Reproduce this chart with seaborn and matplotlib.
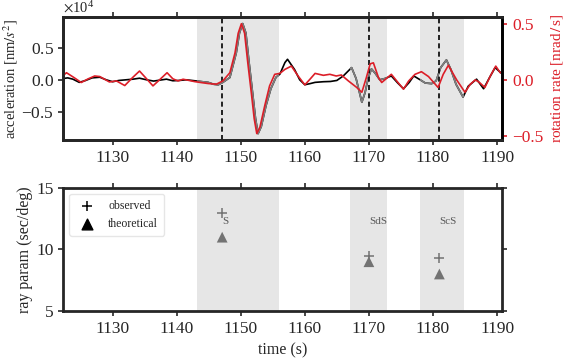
import numpy as np
import pandas as pd
import seaborn as sns
import matplotlib.pyplot as plt

# ---------------- data ----------------
# acceleration trace (x1e4 nm/s^2)
acc_t = [1122.3, 1123.0, 1123.8, 1124.8, 1125.8, 1126.8, 1128.0, 1129.0, 1130.0, 1131.0,
         1132.1, 1133.2, 1134.2, 1135.3, 1136.4, 1137.4, 1138.4, 1139.4, 1140.4, 1141.5,
         1142.8, 1144.0, 1144.9, 1145.8, 1146.5, 1147.2, 1148.3, 1149.3, 1149.8, 1150.3,
         1150.8, 1151.3, 1151.9, 1152.3, 1152.7, 1153.2, 1153.95, 1154.7, 1155.5, 1156.1,
         1156.9, 1157.3, 1158.4, 1159.2, 1160.0, 1160.8, 1161.6, 1162.9, 1164.0, 1165.0,
         1166.0, 1167.3, 1168.0, 1168.9, 1169.4, 1169.9, 1170.4, 1171.0, 1171.7, 1172.5,
         1173.5, 1174.5, 1175.4, 1176.3, 1177.0, 1178.0, 1178.8, 1179.8, 1180.5, 1181.2,
         1182.1, 1182.8, 1183.6, 1184.7, 1185.5, 1186.8, 1187.9, 1188.8, 1189.7, 1190.7]
acc_v = [0.02, 0.03, 0.01, -0.04, -0.01, 0.03, 0.04, 0.0, -0.03, -0.01,
         0.0, 0.01, 0.025, 0.0, -0.02, -0.005, 0.01, -0.015, -0.01, 0.0,
         -0.015, -0.03, -0.04, -0.07, -0.077, -0.04, 0.036, 0.42, 0.73, 0.877,
         0.73, 0.27, -0.25, -0.6, -0.84, -0.73, -0.40, -0.14, 0.04, 0.087,
         0.27, 0.32, 0.16, 0.0, -0.077, -0.06, -0.04, -0.03, -0.026, -0.01,
         0.06, 0.19, 0.02, -0.35, -0.2, 0.03, 0.17, 0.1, 0.0, 0.02,
         0.06, -0.05, -0.14, -0.04, 0.06, 0.0, -0.05, -0.06, -0.015, 0.19,
         0.31, 0.16, -0.07, -0.27, -0.1, 0.01, -0.14, 0.03, 0.19, 0.1]

# rotation rate trace (nrad/s)
rot_t = [1122.3, 1122.8, 1124.0, 1125.1, 1126.2, 1127.2, 1128.0, 1129.5, 1130.6, 1131.9,
         1133.1, 1134.2, 1135.3, 1136.3, 1137.4, 1138.5, 1139.4, 1140.2, 1141.0, 1141.8,
         1142.8, 1144.0, 1144.9, 1146.2, 1147.2, 1148.3, 1149.1, 1149.6, 1150.1, 1150.6,
         1151.1, 1151.7, 1152.1, 1152.5, 1153.0, 1153.75, 1154.5, 1155.3, 1156.1, 1156.9,
         1157.9, 1158.95, 1160.0, 1160.8, 1161.6, 1162.9, 1163.9, 1164.9, 1165.7, 1166.8,
         1168.1, 1168.9, 1169.6, 1170.2, 1170.7, 1171.5, 1172.0, 1172.6, 1173.5, 1174.5,
         1175.4, 1176.2, 1177.2, 1178.2, 1179.3, 1180.8, 1181.6, 1182.4, 1183.7, 1185.0,
         1185.8, 1186.6, 1187.2, 1188.1, 1189.0, 1189.8, 1190.5]
rot_v = [0.04, 0.064, 0.02, -0.023, 0.01, 0.035, 0.03, -0.018, -0.009, -0.05,
         0.02, 0.079, 0.01, -0.053, 0.005, 0.064, 0.01, -0.009, 0.006, -0.003,
         -0.015, -0.025, -0.032, -0.038, -0.009, 0.064, 0.24, 0.415, 0.50, 0.415,
         0.152, -0.14, -0.345, -0.477, -0.418, -0.228, -0.053, 0.05, 0.058, 0.094,
         0.123, 0.035, -0.044, 0.006, 0.058, 0.041, 0.05, 0.035, 0.044, -0.009,
         -0.067, -0.11, 0.02, 0.143, 0.152, 0.02, -0.023, 0.006, 0.05, -0.02,
         -0.082, -0.01, 0.05, 0.073, 0.03, -0.067, 0.05, 0.13, 0.0, -0.11,
         -0.04, 0.0, -0.02, -0.067, 0.04, 0.123, 0.064]

# phases: arrival time, window, ray parameters
phases = ["S", "SdS", "ScS"]
arrivals = [1147.1, 1170.0, 1181.0]
win_start = [1143.1, 1167.0, 1178.0]
win_end = [1156.0, 1172.9, 1184.9]
p_observed = [12.95, 9.5, 9.3]
p_theoretical = [11.0, 9.0, 8.0]
label_y = 12.3

red = "#dc1e28"

sns.set_style("ticks")
plt.rcParams["font.family"] = ["Liberation Serif", "DejaVu Serif"]
plt.rcParams["mathtext.fontset"] = "stix"
plt.rcParams["axes.linewidth"] = 2.0
plt.rcParams["xtick.major.width"] = 1.2
plt.rcParams["ytick.major.width"] = 1.2

fig = plt.figure(figsize=(5.7, 3.61), dpi=100)
ax1 = fig.add_axes([0.111, 0.612, 0.770, 0.341])
ax3 = fig.add_axes([0.111, 0.139, 0.770, 0.340])

# ---------------- top panel: traces ----------------
acc = pd.DataFrame({"time": acc_t, "acc": np.array(acc_v) * 1e4})
rot = pd.DataFrame({"time": rot_t, "rot": rot_v})

spans = [ax1.axvspan(a, b, color="0.9", lw=0, zorder=0) for a, b in zip(win_start, win_end)]
sns.lineplot(data=acc, x="time", y="acc", ax=ax1, color="black", lw=1.2)
for sp in spans:
    sns.lineplot(data=acc, x="time", y="acc", ax=ax1, color="0.5", lw=1.2)
    ax1.lines[-1].set_clip_path(sp)
for t in arrivals:
    ax1.axvline(t, color="black", ls=(0, (3, 2)), lw=1.2, zorder=3)

ax1.set_xlim(1122.3, 1190.8)
ax1.set_ylim(-0.94e4, 0.98e4)
ax1.set_yticks([-5000, 0, 5000])
ax1.ticklabel_format(axis="y", style="sci", scilimits=(4, 4), useMathText=True)
ax1.set_xticks(range(1130, 1191, 10))
ax1.set_xlabel("")
ax1.set_ylabel(r"acceleration [nm$/s^2$]", fontsize=10.5)
ax1.yaxis.set_label_coords(-0.098, 0.5)
ax1.tick_params(labelsize=12.5, top=True, direction="out")
ax1.yaxis.get_offset_text().set_fontsize(10.5)

ax2 = ax1.twinx()
sns.lineplot(data=rot, x="time", y="rot", ax=ax2, color=red, lw=1.2)
ax2.set_ylim(-0.535, 0.56)
ax2.set_yticks([-0.5, 0.0, 0.5])
ax2.set_ylabel(r"rotation rate [nrad$\,/\,$s]", color=red, fontsize=11)
ax2.tick_params(axis="y", colors=red, labelsize=12.5)
ax2.spines["right"].set_color("black")
ax2.set_xlabel("")

# ---------------- bottom panel: ray parameters ----------------
for a, b in zip(win_start, win_end):
    ax3.axvspan(a, b, color="0.9", lw=0, zorder=0)
sns.scatterplot(x=arrivals, y=p_observed, ax=ax3, marker="+", s=60, color="0.45",
                linewidth=1.1, zorder=3)
sns.scatterplot(x=arrivals, y=p_theoretical, ax=ax3, marker="^", s=60, color="0.45",
                edgecolor="none", zorder=3)
for name, t in zip(phases, arrivals):
    ax3.text(t, label_y, name, fontsize=8, color="0.35", ha="left", va="center")

# legend with black proxies
ax3.scatter([], [], marker="+", s=60, color="black", linewidth=1.1, label="observed")
ax3.scatter([], [], marker="^", s=60, color="black", label="theoretical")
ax3.legend(loc="upper left", fontsize=8.5, frameon=True, fancybox=True,
           edgecolor="0.88", handletextpad=0.8, borderpad=0.5)

ax3.set_xlim(1122.3, 1190.8)
ax3.set_ylim(5, 15)
ax3.set_yticks([5, 10, 15])
ax3.set_xticks(range(1130, 1191, 10))
ax3.set_xlabel("time (s)", fontsize=11.5)
ax3.set_ylabel("ray param (sec/deg)", fontsize=11.5)
ax3.yaxis.set_label_coords(-0.07, 0.5)
ax3.tick_params(labelsize=12.5, top=True, right=True, direction="out")

fig.savefig("out.png", dpi=100)
